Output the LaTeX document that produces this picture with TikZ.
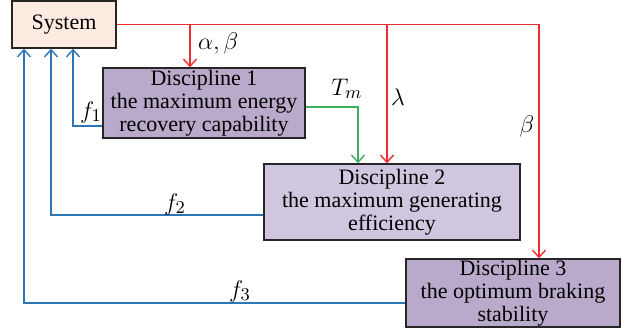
\documentclass[tikz,border=0pt]{standalone}
\usepackage{fontspec}
\setmainfont{Liberation Serif}
\usetikzlibrary{arrows.meta}
\definecolor{lred}{RGB}{237,45,50}
\definecolor{lblue}{RGB}{46,117,182}
\definecolor{lgreen}{RGB}{60,176,96}
\definecolor{peach}{RGB}{252,235,225}
\definecolor{violet1}{RGB}{185,170,203}
\definecolor{violet2}{RGB}{208,198,223}
\tikzset{
	disc/.style={draw=black!85, line width=0.8pt, align=center, font=\fontsize{11}{11.5}\selectfont, inner sep=0pt},
	link/.style={line width=0.7pt, -{Straight Barb[length=3.5pt,width=6.5pt]}},
	lab/.style={font=\fontsize{12.5}{13}\selectfont}
}
\begin{document}
\begin{tikzpicture}[x=0.5pt,y=-0.5pt]
	\useasboundingbox (0,0) rectangle (622,332);
	\node[disc, fill=peach, minimum width=52pt, minimum height=23.5pt] (sys) at (64,24.5) {System};
	\node[disc, fill=violet1, minimum width=101pt, minimum height=35pt] (d1) at (204,103) {Discipline 1\\the maximum energy\\recovery capability};
	\node[disc, fill=violet2, minimum width=128pt, minimum height=38pt] (d2) at (392,202) {Discipline 2\\the maximum generating\\efficiency};
	\node[disc, fill=violet1, minimum width=107pt, minimum height=34pt] (d3) at (513,293) {Discipline 3\\the optimum braking\\stability};
	\coordinate (r1) at (190,0);
	\coordinate (r2) at (387,0);
	\coordinate (r3) at (539,0);
	\coordinate (g2) at (358,0);
	\coordinate (b1) at (73,0);
	\coordinate (b2) at (51,0);
	\coordinate (b3) at (24,0);
	\draw[link, lred] (sys.east) -| (d3.north -| r3);
	\draw[link, lred] (sys.east -| r1) -- (d1.north -| r1);
	\draw[link, lred] (sys.east -| r2) -- (d2.north -| r2);
	\draw[link, lgreen] ([yshift=-2pt]d1.east) -| (d2.north -| g2);
	\draw[link, lblue] ([yshift=-11.5pt]d1.west) -| (sys.south -| b1);
	\draw[link, lblue] ([yshift=-6.5pt]d2.west) -| (sys.south -| b2);
	\draw[link, lblue] ([yshift=-5pt]d3.west) -| (sys.south -| b3);
	\node[lab, anchor=west] (ab) at (191,43) {$\alpha,\beta$};
	\node[lab] (lam) at (398,97) {$\lambda$};
	\node[lab] (bet) at (527,126) {$\beta$};
	\node[lab] (tm) at (347,89) {$T_m$};
	\node[lab] (f1) at (91,112) {$f_1$};
	\node[lab] (f2) at (175,204) {$f_2$};
	\node[lab] (f3) at (240,291) {$f_3$};
\end{tikzpicture}
\end{document}
